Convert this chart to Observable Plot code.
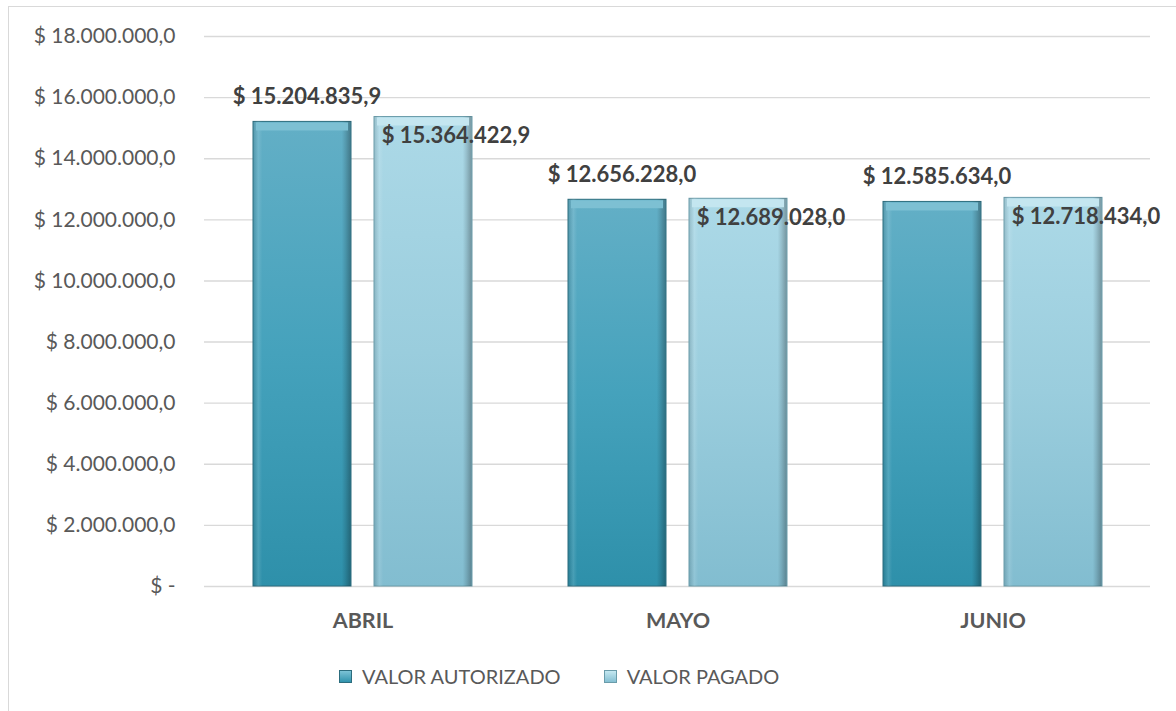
<!DOCTYPE html>
<html>
<head>
<meta charset="utf-8">
<script src="https://cdn.jsdelivr.net/npm/d3@7"></script>
<script src="https://cdn.jsdelivr.net/npm/@observablehq/plot@0.6"></script>
<style>
  html, body { margin: 0; padding: 0; background: #fff; }
  body { width: 1176px; height: 711px; overflow: hidden; position: relative; font-family: Lato, "Open Sans", sans-serif; }
  #frame { position: absolute; left: 8px; top: 6px; width: 1200px; height: 720px; border: 1.5px solid #d9d9d9; box-sizing: border-box; }
  #chart { position: absolute; left: 0; top: 0; }
  #legend { position: absolute; left: 339px; top: 664px; display: flex; align-items: center; font-size: 20px; color: #595959; }
  .item { display: flex; align-items: center; }
  .sw { width: 13px; height: 13px; margin-right: 10px; box-sizing: border-box; }
</style>
</head>
<body>
<div id="frame"><div id="chart"></div></div>
<div id="legend"></div>
<script>
// ---- data ----
const meses = ["ABRIL", "MAYO", "JUNIO"];
const series = ["VALOR AUTORIZADO", "VALOR PAGADO"];
const valorAutorizado = [15204835.9, 12656228.0, 12585634.0];
const valorPagado = [15364422.9, 12689028.0, 12718434.0];
const yTicks = [0, 2000000, 4000000, 6000000, 8000000, 10000000, 12000000, 14000000, 16000000, 18000000];

const autorizado = meses.map((m, i) => ({mes: m, serie: series[0], valor: valorAutorizado[i]}));
const pagado = meses.map((m, i) => ({mes: m, serie: series[1], valor: valorPagado[i]}));

const loc = d3.formatLocale({decimal: ",", thousands: ".", grouping: [3], currency: ["$", ""]});
const num = loc.format(",.1f");
const money = d => d === 0 ? "$ -" : "$ " + num(d);

const BAND_GAP = 121; // inset that splits each month band into two bars
const labelStyle = {fontSize: 22, fontWeight: "bold", fill: "#404040"};

const chart = Plot.plot({
  width: 1168,
  height: 640,
  marginLeft: 195,
  marginRight: 27,
  marginTop: 29,
  marginBottom: 61,
  style: {fontFamily: "Lato, 'Open Sans', sans-serif", fontSize: "21px", color: "#595959", background: "transparent", overflow: "visible"},
  x: {domain: meses, paddingInner: 0.305, paddingOuter: 0.1525, label: null},
  y: {domain: [0, 18000000], label: null},
  color: {domain: series, range: ["url(#gA)", "url(#gP)"]},
  marks: [
    Plot.gridY(yTicks, {stroke: "#d9d9d9", strokeOpacity: 1, strokeWidth: 1.4}),
    Plot.axisY(yTicks, {tickSize: 0, tickPadding: 29, tickFormat: money, fill: "#595959", fontSize: 21, label: null}),
    Plot.axisX({tickSize: 0, tickPadding: 26, fontWeight: "bold", fontSize: 21.5, fill: "#595959", label: null}),
    // main bars
    Plot.barY(autorizado, {x: "mes", y: "valor", fill: "serie", insetRight: BAND_GAP, stroke: "#2c6d7e", strokeWidth: 1, ariaLabel: "bars-a"}),
    Plot.barY(pagado, {x: "mes", y: "valor", fill: "serie", insetLeft: BAND_GAP, stroke: "#6a9caa", strokeWidth: 1, ariaLabel: "bars-p"}),
    // side bevel overlay
    Plot.barY(autorizado, {x: "mes", y: "valor", fill: "url(#gEdge)", insetRight: BAND_GAP + 0.5, insetLeft: 0.5}),
    Plot.barY(pagado, {x: "mes", y: "valor", fill: "url(#gEdge)", insetLeft: BAND_GAP + 0.5, insetRight: 0.5}),
    // top bevel
    Plot.tickY(autorizado, {x: "mes", y: "valor", stroke: "#7dc0d3", strokeWidth: 8, dy: 4.5, insetLeft: 3, insetRight: BAND_GAP + 3}),
    Plot.tickY(pagado, {x: "mes", y: "valor", stroke: "#c4e6f0", strokeWidth: 8, dy: 4.5, insetLeft: BAND_GAP + 3, insetRight: 3}),
    // value labels
    Plot.text(autorizado, {x: "mes", y: "valor", text: d => money(d.valor), dx: -56, dy: -25, ...labelStyle}),
    Plot.text(pagado, {x: "mes", y: "valor", text: d => money(d.valor), dx: 93, dy: 19, ...labelStyle})
  ]
});

// gradients & shadow
const ns = "http://www.w3.org/2000/svg";
const defs = document.createElementNS(ns, "defs");
defs.innerHTML = `
  <linearGradient id="gA" x1="0" y1="0" x2="0" y2="1">
    <stop offset="0" stop-color="#63afc6"/>
    <stop offset="0.5" stop-color="#45a2bc"/>
    <stop offset="1" stop-color="#2e90aa"/>
  </linearGradient>
  <linearGradient id="gP" x1="0" y1="0" x2="0" y2="1">
    <stop offset="0" stop-color="#acd9e7"/>
    <stop offset="0.5" stop-color="#9acddd"/>
    <stop offset="1" stop-color="#82bdd0"/>
  </linearGradient>
  <linearGradient id="gEdge" x1="0" y1="0" x2="1" y2="0">
    <stop offset="0" stop-color="#000" stop-opacity="0.12"/>
    <stop offset="0.05" stop-color="#fff" stop-opacity="0.12"/>
    <stop offset="0.09" stop-color="#fff" stop-opacity="0"/>
    <stop offset="0.91" stop-color="#000" stop-opacity="0"/>
    <stop offset="0.95" stop-color="#000" stop-opacity="0.12"/>
    <stop offset="1" stop-color="#000" stop-opacity="0.3"/>
  </linearGradient>
  <filter id="shadow" x="-10%" y="-10%" width="130%" height="130%">
    <feDropShadow dx="3" dy="3" stdDeviation="2" flood-color="#000" flood-opacity="0.35"/>
  </filter>`;
chart.insertBefore(defs, chart.firstChild);
chart.querySelectorAll('g[aria-label="bars-a"], g[aria-label="bars-p"]').forEach(g => g.setAttribute("filter", "url(#shadow)"));

document.getElementById("chart").appendChild(chart);

// legend
const legend = document.getElementById("legend");
const swatches = [
  {label: series[0], bg: "linear-gradient(#7cc3d6, #3193ad)", border: "#2c6d7e", mr: "43px"},
  {label: series[1], bg: "linear-gradient(#c5e8f1, #84bfd2)", border: "#6a9caa", mr: "0"}
];
swatches.forEach(s => {
  const it = document.createElement("div");
  it.className = "item";
  it.style.marginRight = s.mr;
  const sw = document.createElement("div");
  sw.className = "sw";
  sw.style.background = s.bg;
  sw.style.border = "1px solid " + s.border;
  const t = document.createElement("span");
  t.textContent = s.label;
  it.appendChild(sw);
  it.appendChild(t);
  legend.appendChild(it);
});
</script>
</body>
</html>
